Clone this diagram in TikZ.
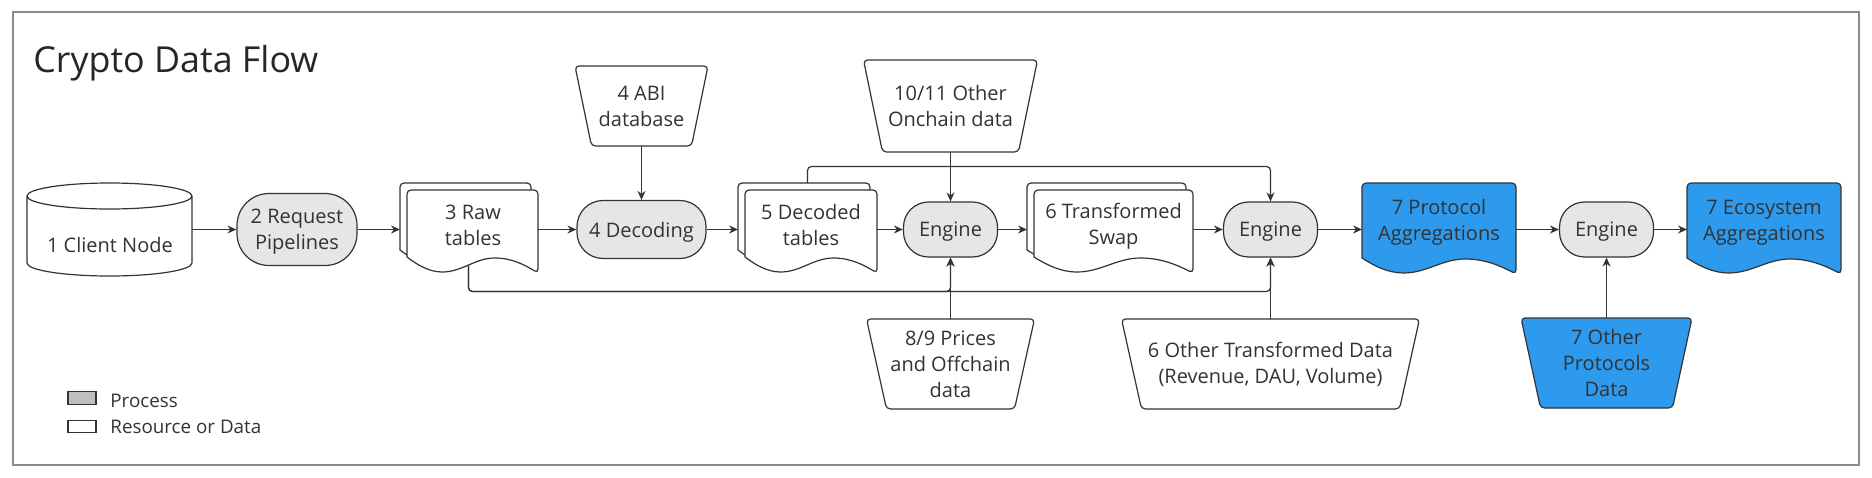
\documentclass[tikz,border=0pt]{standalone}
\usepackage{fontspec}
\setmainfont{Open Sans}
\usetikzlibrary{arrows.meta,calc}
\definecolor{ink}{HTML}{333333}
\definecolor{procfill}{HTML}{E6E6E6}
\definecolor{bluefill}{HTML}{2D9AED}
\definecolor{framegray}{HTML}{8C8C8C}
\definecolor{leggray}{HTML}{BFBFBF}
\pgfdeclarelayer{bg}
\pgfdeclarelayer{mid}
\pgfsetlayers{bg,mid,main}
% document shape with wavy bottom, from a node's box, offset #2 up-left
\newcommand\docpath[2]{let \p1=($(#1.north west)+(-#2,#2)$), \p2=($(#1.south east)+(-#2,#2)$), \n1={\x2-\x1} in
  (\x1,\y2+8pt) [rounded corners=2pt] -- (\x1,\y1) -- (\x2,\y1) -- (\x2,\y2) [sharp corners]
  .. controls ({\x2-0.1*\n1},{\y2+4pt}) and ({\x1+0.8*\n1},{\y2+7.5pt}) .. ({\x1+0.67*\n1},{\y2+7.5pt})
  .. controls ({\x1+0.52*\n1},{\y2+7.5pt}) and ({\x1+0.42*\n1},{\y2+0.5pt}) .. ({\x1+0.27*\n1},{\y2+0.5pt})
  .. controls ({\x1+0.17*\n1},{\y2+0.5pt}) and ({\x1+0.08*\n1},{\y2+4pt}) .. (\x1,\y2+8pt) -- cycle}
% trapezoid (wide top) from a node's box
\newcommand\trappath[2]{(#1.north west) -- (#1.north east) -- ([xshift=-#2]#1.south east) -- ([xshift=#2]#1.south west) -- cycle}
\tikzset{
  anchorbox/.style 2 args={inner sep=0pt, outer sep=0pt, minimum width=#1, minimum height=#2},
  lbl/.style={font=\fontsize{10pt}{13pt}\selectfont, text=ink, align=center, inner sep=0pt},
  pill/.style={draw=ink, fill=procfill, line width=0.6pt, rounded corners=#1, lbl, text depth=0pt},
  shapeline/.style={draw=ink, line width=0.6pt, fill=white},
  blueline/.style={draw=ink, line width=0.6pt, fill=bluefill},
  trapline/.style={draw=ink, line width=0.6pt, fill=white, rounded corners=2pt},
  bluetrap/.style={trapline, fill=bluefill},
  conn/.style={draw=ink, line width=0.6pt, -{Stealth[length=4.5pt,width=4pt]}},
  legbox/.style={draw=ink, line width=0.6pt, minimum width=14pt, minimum height=6.25pt, inner sep=0pt},
  legtxt/.style={anchor=west, inner sep=0pt, text=ink, font=\fontsize{9.4pt}{12pt}\selectfont},
}
\begin{document}
\begin{tikzpicture}[x=0.5pt,y=-0.5pt]
\useasboundingbox (0,0) rectangle (1872,477);

% title
\node[anchor=base west, inner sep=0pt, text=black!85, font=\fontsize{17.9pt}{21pt}\selectfont] (title) at (33,72) {Crypto Data Flow};

% nodes
\node[anchorbox={82.5pt}{46.5pt}] (cyl) at (109.5,229.5) {};
\node[lbl] (cylt) at (110,245) {1 Client Node};
\node[pill=16pt, minimum width=60pt, minimum height=36pt] (pipe) at (297,229.5) {2 Request\\Pipelines};
\node[anchorbox={65.5pt}{41.5pt}] (raw) at (472.5,231.5) {};
\node[pill=13pt, minimum width=64.5pt, minimum height=29pt] (dec4) at (641.5,229.5) {4 Decoding};
\node[lbl, anchorbox={66.5pt}{40pt}] (abi) at (641.5,106) {4 ABI\\database};
\node[anchorbox={66pt}{41.5pt}] (decd) at (811,231.5) {};
\node[pill=12.5pt, minimum width=47pt, minimum height=27.5pt] (eng1) at (950.5,229.5) {Engine};
\node[lbl, anchorbox={87pt}{46pt}] (onch) at (950.5,106) {10/11 Other\\Onchain data};
\node[anchorbox={79.5pt}{41.5pt}] (swap) at (1113.5,231.5) {};
\node[pill=12.5pt, minimum width=47pt, minimum height=27.5pt] (eng2) at (1270.5,229.5) {Engine};
\node[anchorbox={77pt}{45.5pt}] (prot) at (1439,228.5) {};
\node[pill=12.5pt, minimum width=47pt, minimum height=27.5pt] (eng3) at (1606.5,229.5) {Engine};
\node[anchorbox={77pt}{45.5pt}] (eco) at (1764,228.5) {};
\node[lbl, anchorbox={84pt}{45pt}] (price) at (950.5,364) {8/9 Prices\\and Offchain\\data};
\node[lbl, anchorbox={149pt}{45pt}] (oth6) at (1270.5,364) {6 Other Transformed Data\\(Revenue, DAU, Volume)};
\node[lbl, anchorbox={85.5pt}{45pt}] (othp) at (1606.5,363) {7 Other\\Protocols\\Data};

% shapes
\begin{pgfonlayer}{mid}
\draw[shapeline] let \p1=(cyl.north west), \p2=(cyl.south east) in
  (\x1,\y1-6.5pt) -- (\x1,\y2+6.5pt) arc[start angle=180,end angle=360,x radius=41.25pt,y radius=6.5pt]
  -- (\x2,\y1-6.5pt) arc[start angle=0,end angle=180,x radius=41.25pt,y radius=6.5pt] -- cycle
  (\x1,\y1-6.5pt) arc[start angle=180,end angle=360,x radius=41.25pt,y radius=6.5pt];
\draw[shapeline] \docpath{raw}{3.5pt};
\draw[shapeline] \docpath{raw}{0pt};
\draw[shapeline] \docpath{decd}{3.5pt};
\draw[shapeline] \docpath{decd}{0pt};
\draw[shapeline] \docpath{swap}{3.5pt};
\draw[shapeline] \docpath{swap}{0pt};
\draw[blueline] \docpath{prot}{0pt};
\draw[blueline] \docpath{eco}{0pt};
\draw[trapline] \trappath{abi}{8.25pt};
\draw[trapline] \trappath{onch}{9.5pt};
\draw[trapline] \trappath{price}{10pt};
\draw[trapline] \trappath{oth6}{10pt};
\draw[bluetrap] \trappath{othp}{9.75pt};
\end{pgfonlayer}

% labels of documents
\node[lbl] (rawt) at (473,225) {3 Raw\\tables};
\node[lbl] (decdt) at (811,224.5) {5 Decoded\\tables};
\node[lbl] (swapt) at (1113.5,226) {6 Transformed\\Swap};
\node[lbl] (prott) at (1439,222.5) {7 Protocol\\Aggregations};
\node[lbl] (ecot) at (1764,222.5) {7 Ecosystem\\Aggregations};

% legend
\node[legbox, fill=leggray] (lgp) at (82,398) {};
\node[legtxt] (lgpt) at (110,400.5) {Process};
\node[legbox, fill=white] (lgr) at (82,426.5) {};
\node[legtxt] (lgrt) at (110,427) {Resource or Data};

% connectors and frame
\begin{pgfonlayer}{bg}
\draw[framegray, line width=1pt] (13,12) rectangle (1859,465);
\coordinate (rawbk) at ([xshift=-3.5pt]raw.west);
\coordinate (decbk) at ([xshift=-3.5pt]decd.west);
\coordinate (swapbk) at ([xshift=-3.5pt]swap.west);
\coordinate (rawb) at ([xshift=-2pt,yshift=6pt]raw.south);
\coordinate (decb) at ([xshift=-1.75pt,yshift=2.5pt]decd.north);
\coordinate (low) at (0,291.5);
\draw[conn] (cyl.east) -- (pipe.west);
\draw[conn] (pipe.east) -- (pipe.east -| rawbk);
\draw[conn] (dec4.west -| raw.east) -- (dec4.west);
\draw[conn] (dec4.east) -- (dec4.east -| decbk);
\draw[conn] (eng1.west -| decd.east) -- (eng1.west);
\draw[conn] (eng1.east) -- (eng1.east -| swapbk);
\draw[conn] (eng2.west -| swap.east) -- (eng2.west);
\draw[conn] (eng2.east) -- (eng2.east -| prot.west);
\draw[conn] (eng3.west -| prot.east) -- (eng3.west);
\draw[conn] (eng3.east) -- (eng3.east -| eco.west);
\draw[conn] (abi.south) -- (dec4.north);
\draw[conn] (onch.south) -- (eng1.north);
\draw[conn] (price.north) -- (eng1.south);
\draw[conn] (oth6.north) -- (eng2.south);
\draw[conn] (othp.north) -- (eng3.south);
\draw[conn, rounded corners=2pt] (decb) -- ++(0,-18.5) -| (eng2.north);
\draw[conn, rounded corners=2pt] (rawb) -- (rawb |- low) -| (eng1.south);
\draw[conn, rounded corners=2pt] (rawb) -- (rawb |- low) -| (eng2.south);
\end{pgfonlayer}
\end{tikzpicture}
\end{document}
